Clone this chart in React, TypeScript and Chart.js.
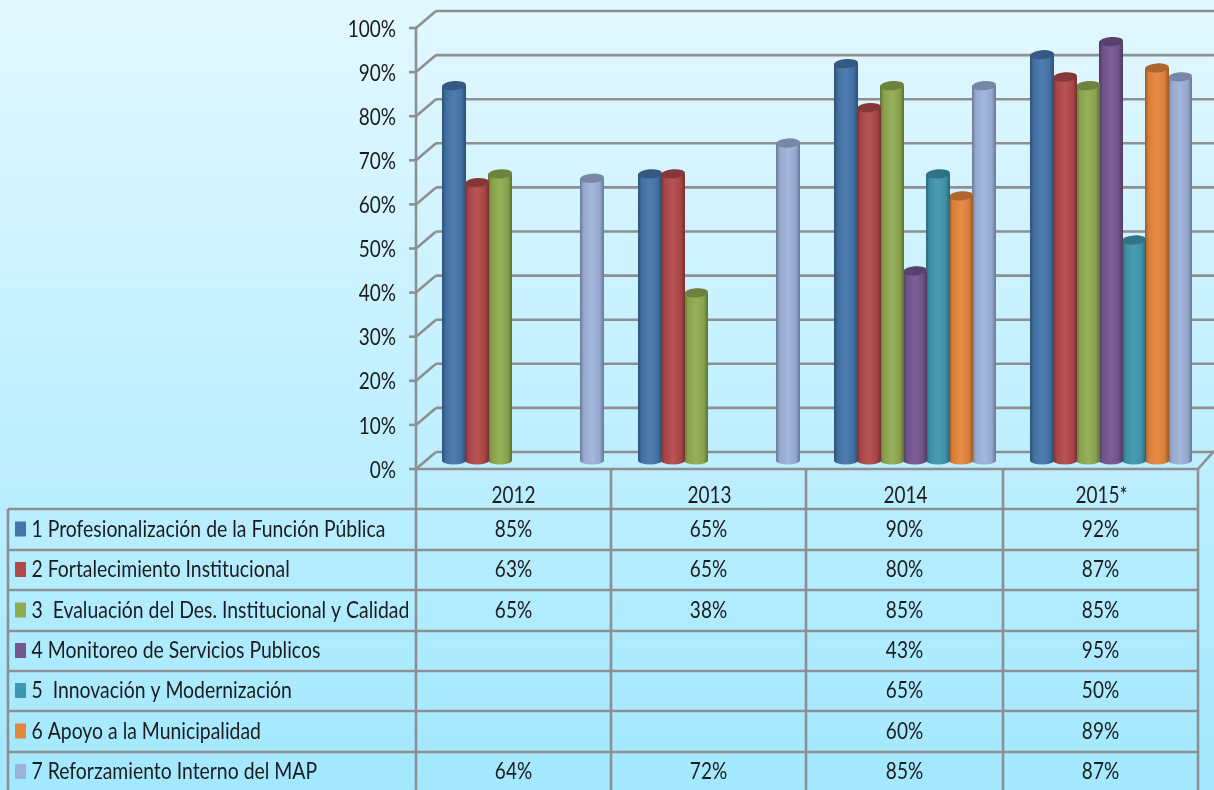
import React, { useEffect, useRef } from "react";
import { Chart, registerables } from "chart.js";

Chart.register(...registerables);

const years = ["2012", "2013", "2014", "2015*"];
const seriesNames = [
  "1 Profesionalización de la Función Pública",
  "2 Fortalecimiento Institucional",
  "3  Evaluación del Des. Institucional y Calidad",
  "4 Monitoreo de Servicios Publicos",
  "5  Innovación y Modernización",
  "6 Apoyo a la Municipalidad",
  "7 Reforzamiento Interno del MAP",
];
const profesionalizacion = [85, 65, 90, 92];
const fortalecimiento = [63, 65, 80, 87];
const evaluacion = [65, 38, 85, 85];
const monitoreo = [null, null, 43, 95];
const innovacion = [null, null, 65, 50];
const apoyo = [null, null, 60, 89];
const reforzamiento = [64, 72, 85, 87];
const allSeries = [profesionalizacion, fortalecimiento, evaluacion, monitoreo, innovacion, apoyo, reforzamiento];
const colors = ["#4475ab", "#b2494a", "#8fab50", "#75568f", "#3f97ae", "#e5863c", "#9db2da"];

const W = 1214;
const H = 790;
const FONT = "Lato, Carlito, sans-serif";
const TEXT_STRETCH = 1.17;
const GRID = "#8d8f91";
const COLS = [416, 611, 806, 1003, 1198];
const ROWS = [469, 509, 550, 590, 631, 671, 711, 752, 792];

function shade(hex: string, f: number) {
  const n = parseInt(hex.slice(1), 16);
  const ch = [(n >> 16) & 255, (n >> 8) & 255, n & 255].map((c) =>
    Math.round(f < 1 ? c * f : c + (255 - c) * (f - 1))
  );
  return `rgb(${ch[0]},${ch[1]},${ch[2]})`;
}

const line = (ctx: any, x1: number, y1: number, x2: number, y2: number) => {
  ctx.beginPath();
  ctx.moveTo(x1, y1);
  ctx.lineTo(x2, y2);
  ctx.stroke();
};

const wallsPlugin = {
  id: "walls",
  beforeDatasetsDraw(chart: any) {
    const { ctx, scales } = chart;
    const y = scales.y;
    ctx.save();
    ctx.strokeStyle = GRID;
    ctx.lineWidth = 2.6;
    const front = 8.5;
    const back = 8.5;
    y.ticks.forEach((t: any) => {
      const py = y.getPixelForValue(t.value);
      line(ctx, 409, py + front, 416, py + front);
      line(ctx, 416, py + front, 436, py - back);
      line(ctx, 436, py - back, W, py - back);
    });
    const p0 = y.getPixelForValue(0);
    line(ctx, 416, y.getPixelForValue(100) + front, 416, p0 + front);
    line(ctx, COLS[4], p0 + front, W, p0 - back - 1);
    ctx.restore();
  },
};

const cylinderPlugin = {
  id: "cylinder",
  afterDatasetDraw(chart: any, args: any) {
    const { ctx } = chart;
    const i = args.index;
    const base = colors[i];
    const values = allSeries[i];
    chart.getDatasetMeta(i).data.forEach((el: any, k: number) => {
      if (values[k] == null) return;
      const w = el.width + 1;
      const l = el.x - w / 2;
      const r = el.x + w / 2;
      const g = ctx.createLinearGradient(l, 0, r, 0);
      g.addColorStop(0, shade(base, 0.68));
      g.addColorStop(0.16, shade(base, 0.95));
      g.addColorStop(0.5, shade(base, 1.06));
      g.addColorStop(0.82, shade(base, 0.95));
      g.addColorStop(1, shade(base, 0.66));
      ctx.save();
      ctx.fillStyle = g;
      ctx.beginPath();
      ctx.moveTo(l, el.y);
      ctx.lineTo(l, el.base);
      ctx.ellipse(el.x, el.base, w / 2, 4, 0, Math.PI, 0, true);
      ctx.lineTo(r, el.y);
      ctx.closePath();
      ctx.fill();
      ctx.fillStyle = shade(base, 0.76);
      ctx.beginPath();
      ctx.ellipse(el.x, el.y, w / 2, 4.6, -0.07, 0, Math.PI * 2);
      ctx.fill();
      ctx.restore();
    });
  },
};

const tablePlugin = {
  id: "dataTable",
  afterDraw(chart: any) {
    const { ctx } = chart;
    ctx.save();
    ctx.strokeStyle = GRID;
    ctx.lineWidth = 2.6;
    line(ctx, COLS[0], ROWS[0], COLS[4], ROWS[0]);
    for (let r = 1; r < ROWS.length - 1; r++) line(ctx, 8, ROWS[r], COLS[4], ROWS[r]);
    COLS.forEach((x) => line(ctx, x, ROWS[0], x, H));
    line(ctx, 8, ROWS[1], 8, H);
    ctx.textBaseline = "middle";
    seriesNames.forEach((name, s) => {
      const cy = (ROWS[s + 1] + ROWS[s + 2]) / 2;
      ctx.fillStyle = colors[s];
      ctx.fillRect(15, cy - 8, 11, 15);
      ctx.fillStyle = "#1c1c1c";
      ctx.textAlign = "left";
      ctx.font = `19.4px ${FONT}`;
      ctx.fillText(name, 31.5, cy);
      ctx.textAlign = "center";
      ctx.font = `19px ${FONT}`;
      allSeries[s].forEach((v, c) => {
        if (v == null) return;
        ctx.fillText(`${v}%`, (COLS[c] + COLS[c + 1]) / 2, cy);
      });
    });
    ctx.restore();
  },
};

function stretchText(ctx: any) {
  const orig = ctx.fillText.bind(ctx);
  ctx.fillText = (t: string, x: number, y: number, m?: number) => {
    ctx.save();
    ctx.translate(x, y);
    ctx.scale(1, TEXT_STRETCH);
    if (m === undefined) orig(t, 0, 0);
    else orig(t, 0, 0, m);
    ctx.restore();
  };
}

export default function App() {
  const ref = useRef<HTMLCanvasElement>(null);
  useEffect(() => {
    document.body.style.margin = "0";
    const canvas = ref.current!;
    stretchText(canvas.getContext("2d"));
    const chart = new Chart(canvas, {
      type: "bar",
      data: {
        labels: years,
        datasets: seriesNames.map((name, i) => ({
          label: name,
          data: allSeries[i],
          backgroundColor: colors[i],
          borderWidth: 0,
          barPercentage: 1,
          categoryPercentage: 0.8214,
        })),
      },
      options: {
        responsive: false,
        animation: false,
        layout: { padding: { top: 19.5, right: 5, left: 0, bottom: 0 } },
        plugins: { legend: { display: false }, title: { display: false }, tooltip: { enabled: false } },
        scales: {
          x: {
            grid: { display: false },
            border: { display: false },
            afterFit: (s: any) => {
              s.height = 329.5;
              s.paddingLeft = 0;
              s.paddingRight = 0;
            },
            ticks: {
              padding: 16,
              labelOffset: -9.5,
              maxRotation: 0,
              autoSkip: false,
              color: "#1c1c1c",
              font: { family: FONT, size: 19 },
            },
          },
          y: {
            min: 0,
            max: 100,
            grid: { display: false },
            border: { display: false },
            afterFit: (s: any) => {
              s.width = 425;
              s.paddingTop = 0;
              s.paddingBottom = 0;
            },
            ticks: {
              stepSize: 10,
              padding: 21,
              labelOffset: 10,
              color: "#1c1c1c",
              font: { family: FONT, size: 19 },
              callback: (v: any) => `${v}%`,
            },
          },
        },
      },
      plugins: [wallsPlugin, cylinderPlugin, tablePlugin],
    });
    return () => chart.destroy();
  }, []);
  return (
    <div
      style={{
        position: "absolute",
        left: 0,
        top: 0,
        width: W,
        height: H,
        overflow: "hidden",
        background: "linear-gradient(180deg, #e2f8ff 0%, #a2e8ff 100%)",
      }}
    >
      <canvas ref={ref} width={W} height={H} style={{ display: "block" }} />
    </div>
  );
}
